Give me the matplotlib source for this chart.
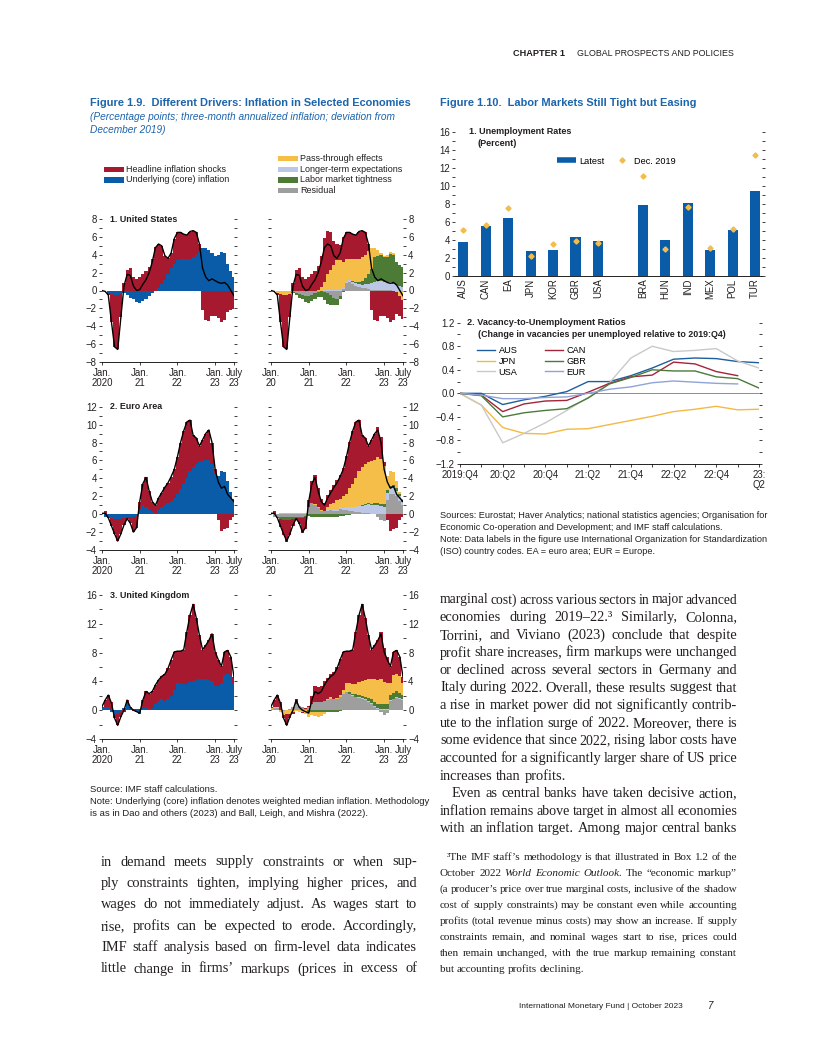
import numpy as np
import matplotlib
matplotlib.use('Agg')
import matplotlib.pyplot as plt
from matplotlib.patches import Rectangle
from matplotlib.lines import Line2D
from matplotlib.ticker import FuncFormatter

W, H = 816, 1056
SANS = ['Liberation Sans', 'DejaVu Sans']
SERIF = ['Liberation Serif', 'DejaVu Serif']
plt.rcParams['font.family'] = SANS
plt.rcParams['axes.unicode_minus'] = True

RED = '#A6192E'
BLUE = '#0A5CA8'
YELLOW = '#F4BE48'
LBLUE = '#BCC6E6'
GREEN = '#4B7B35'
GRAY = '#9E9E9E'
TBLUE = '#1C64AC'
INK = '#231F20'

# ---- Figure 1.9: monthly, Jan 2020 .. Jul 2023 ----
us_total = [0.0, -0.1, -0.5, -3.5, -6.3, -6.6, -3.0, 0.5, 1.8, 1.7, 0.5, 0.0,
            0.1, 0.7, 1.2, 2.0, 3.2, 4.8, 5.2, 5.0, 3.9, 3.6, 4.2, 5.8,
            6.5, 6.5, 6.3, 6.2, 6.6, 6.7, 6.5, 5.2, 2.5, 1.5, 1.1, 1.3,
            1.1, 0.9, 0.8, 0.9, 0.6, 0.0, -0.6]
us_headline = [0.0, 0.0, -0.2, -3.1, -5.8, -6.1, -2.6, 0.8, 2.3, 2.5, 1.5, 1.3,
               1.5, 1.9, 2.2, 2.6, 3.5, 4.9, 4.9, 4.3, 2.7, 1.8, 1.7, 2.8,
               3.1, 3.0, 2.8, 2.7, 3.1, 3.0, 2.5, 0.8, -2.2, -3.3, -3.4, -2.9,
               -2.8, -3.1, -3.5, -3.3, -2.4, -2.2, -2.1]
us_core = [0.0, -0.1, -0.3, -0.4, -0.5, -0.5, -0.4, -0.3, -0.5, -0.8, -1.0, -1.3,
           -1.4, -1.2, -1.0, -0.6, -0.3, -0.1, 0.3, 0.7, 1.2, 1.8, 2.5, 3.0,
           3.4, 3.5, 3.5, 3.5, 3.5, 3.7, 4.0, 4.4, 4.7, 4.8, 4.5, 4.2,
           3.9, 4.0, 4.3, 4.2, 3.0, 2.2, 1.5]
us_resid = [0.0, 0.0, 0.0, -0.1, -0.1, -0.1, -0.1, -0.2, -0.3, -0.4, -0.5, -0.6,
            -0.6, -0.5, -0.3, -0.2, -0.1, -0.2, -0.3, -0.5, -0.8, -1.0, -0.6, 0.2,
            0.8, 0.9, 0.7, 0.5, 0.4, 0.3, 0.3, 0.2, 0.1, 0.1, 0.1, 0.1,
            0.1, 0.1, 0.1, 0.0, 0.0, -0.1, -0.1]
us_expect = [0, 0, 0, 0, 0, 0, 0, 0, 0, 0, 0, 0,
             0, 0, 0, 0, 0, 0.1, 0.1, 0.1, 0.1, 0.1, 0.1, 0.1,
             0.2, 0.3, 0.3, 0.3, 0.3, 0.3, 0.4, 0.5, 0.7, 0.9, 1.0, 1.0,
             0.9, 0.8, 0.8, 0.7, 0.6, 0.5, 0.4]
us_labor = [0, 0, 0, 0, 0, 0, 0, -0.1, -0.2, -0.4, -0.5, -0.7,
            -0.8, -0.7, -0.6, -0.5, -0.6, -0.9, -1.2, -1.1, -0.8, -0.6, -0.3, -0.2,
            -0.1, 0.0, 0.1, 0.2, 0.3, 0.5, 0.7, 1.1, 1.6, 2.7, 2.8, 2.9,
            2.8, 2.9, 3.2, 3.3, 2.6, 2.3, 2.2]
us_pass = [0.0, -0.1, -0.3, -0.3, -0.4, -0.4, -0.3, 0.0, 0.0, 0.0, 0.0, 0.0,
           0.0, 0.0, -0.1, 0.1, 0.4, 0.9, 1.7, 2.2, 2.7, 3.3, 3.3, 2.9,
           2.5, 2.3, 2.4, 2.5, 2.5, 2.6, 2.6, 2.6, 2.3, 1.1, 0.6, 0.2,
           0.1, 0.2, 0.2, 0.2, -0.2, -0.5, -1.0]

ea_total = [0.1, 0.1, -0.4, -1.3, -2.2, -3.0, -2.2, -1.2, -0.5, -1.0, -2.0, -1.5,
            1.4, 3.4, 4.1, 2.6, 1.4, 1.0, 1.8, 2.4, 3.0, 3.5, 4.2, 5.0,
            6.4, 8.0, 9.3, 10.3, 10.5, 8.8, 8.5, 7.6, 8.3, 9.0, 9.4, 8.0,
            5.0, 3.6, 2.9, 3.1, 2.2, 1.8, 1.4]
ea_headline = [0.1, 0.4, 0.0, -0.9, -1.7, -2.5, -1.7, -0.8, -0.2, -0.7, -1.7, -1.3,
               0.8, 2.4, 3.3, 2.1, 1.2, 0.9, 1.3, 1.6, 2.0, 2.2, 2.7, 3.2,
               4.2, 5.2, 5.9, 6.3, 5.7, 3.5, 2.9, 1.8, 2.4, 3.0, 3.3, 2.4,
               0.4, -0.7, -1.9, -1.6, -1.5, -0.7, -0.3]
ea_core = [0.0, -0.3, -0.4, -0.4, -0.5, -0.5, -0.5, -0.4, -0.3, -0.3, -0.3, -0.2,
           0.6, 1.0, 0.8, 0.5, 0.2, 0.1, 0.5, 0.8, 1.0, 1.3, 1.5, 1.8,
           2.2, 2.8, 3.4, 4.0, 4.8, 5.3, 5.6, 5.8, 5.9, 6.0, 6.1, 5.6,
           4.6, 4.3, 4.8, 4.7, 3.7, 2.5, 1.7]
ea_resid = [0.0, -0.3, -0.3, -0.3, -0.3, -0.3, -0.3, -0.3, -0.3, -0.3, -0.3, -0.2,
            0.8, 1.2, 1.0, 0.7, 0.4, 0.3, 0.4, 0.5, 0.4, 0.4, 0.6, 0.5,
            0.5, 0.4, 0.3, 0.2, 0.2, 0.1, 0.1, 0.1, 0.0, 0.0, -0.3, -0.6,
            -0.8, 1.6, 2.2, 2.3, 2.0, 1.5, 1.0]
ea_expect = [0, 0, 0, 0, 0, 0, 0, 0, 0, 0, 0, 0,
             0, 0, 0, 0, 0, 0, 0.1, 0.1, 0.1, 0.1, 0.2, 0.2,
             0.3, 0.4, 0.5, 0.6, 0.7, 0.8, 0.9, 1.0, 1.0, 1.0, 1.0, 0.9,
             0.8, 0.8, 0.7, 0.7, 0.6, 0.5, 0.4]
ea_labor = [0, 0, -0.1, -0.2, -0.3, -0.3, -0.3, -0.2, -0.1, -0.1, -0.1, -0.1,
            -0.2, -0.3, -0.3, -0.3, -0.3, -0.3, -0.3, -0.3, -0.3, -0.3, -0.2, -0.2,
            -0.1, -0.1, 0.0, 0.0, 0.0, 0.1, 0.1, 0.1, 0.1, 0.2, 0.2, 0.2,
            0.3, 0.3, 0.3, 0.3, 0.3, 0.2, 0.2]
ea_pass = [0.0, 0.0, 0.0, 0.1, 0.1, 0.1, 0.1, 0.1, 0.1, 0.1, 0.1, 0.1,
           0.0, 0.1, 0.1, 0.1, 0.1, 0.1, 0.3, 0.5, 0.8, 1.1, 0.9, 1.3,
           1.5, 2.1, 2.6, 3.2, 3.9, 4.3, 4.5, 4.6, 4.8, 4.8, 5.2, 5.1,
           4.3, 1.6, 1.6, 1.4, 0.8, 0.3, 0.1]

uk_total = [0.5, 1.4, 2.1, 1.0, -1.1, -2.1, -0.9, 0.0, 1.4, 0.4, 0.0, -0.2,
            -0.4, 1.4, 2.6, 2.3, 2.6, 3.5, 4.2, 4.7, 5.0, 5.8, 7.0, 8.1,
            8.2, 8.2, 8.4, 10.9, 13.2, 14.7, 12.8, 10.4, 8.4, 9.0, 9.7, 10.6,
            8.1, 7.0, 6.1, 8.1, 8.3, 7.4, 4.6]
uk_headline = [0.2, 0.9, 1.7, 1.2, -0.4, -1.6, -0.6, -0.3, 0.6, 0.0, -0.1, 0.1,
               0.1, 1.1, 2.3, 2.1, 2.3, 2.7, 2.9, 3.2, 3.7, 4.3, 5.0, 5.3,
               4.4, 4.4, 4.8, 7.3, 9.3, 10.6, 8.6, 6.1, 4.1, 4.7, 5.5, 6.6,
               4.8, 3.6, 2.3, 3.2, 3.3, 2.6, 0.8]
uk_core = [0.3, 0.5, 0.4, -0.2, -0.7, -0.5, -0.3, 0.3, 0.8, 0.4, 0.1, -0.3,
           -0.5, 0.3, 0.3, 0.2, 0.3, 0.8, 1.3, 1.5, 1.3, 1.5, 2.0, 2.8,
           3.8, 3.8, 3.6, 3.6, 3.9, 4.1, 4.2, 4.3, 4.3, 4.3, 4.2, 4.0,
           3.3, 3.4, 3.8, 4.9, 5.0, 4.8, 3.8]
uk_resid = [0.2, 0.3, 0.3, 0.0, -0.1, 0.0, 0.2, 0.5, 0.9, 0.6, 0.4, 0.2,
            0.5, 0.9, 1.1, 1.1, 1.1, 1.3, 1.4, 1.5, 1.5, 1.6, 1.8, 2.2,
            2.5, 2.2, 2.0, 1.8, 1.7, 1.6, 1.4, 1.2, 0.9, 0.5, 0.2, -0.3,
            -0.6, -0.4, 1.3, 1.5, 1.7, 1.6, 1.4]
uk_expect = [0, 0, 0, 0, 0, 0, 0, 0, 0, 0, 0, 0,
             0, 0, 0, 0, 0, 0, 0, 0, 0, 0, 0, 0,
             0.1, 0.1, 0.1, 0.1, 0.1, 0.1, 0.1, 0.1, 0.1, 0.1, 0.1, 0.1,
             0.1, 0.1, 0.1, 0.1, 0.1, 0.1, 0.1]
uk_labor = [0, 0, 0, 0, 0, 0, 0, 0, 0, 0, 0, 0,
            -0.2, -0.2, -0.3, -0.3, -0.3, -0.3, -0.3, -0.3, -0.3, -0.2, -0.1, 0.0,
            0.1, 0.2, 0.2, 0.3, 0.3, 0.3, 0.4, 0.4, 0.5, 0.5, 0.6, 0.7,
            0.8, 0.8, 0.7, 0.8, 0.8, 0.7, 0.6]
uk_pass = [0.1, 0.2, 0.1, -0.2, -0.6, -0.5, -0.5, -0.2, -0.1, -0.2, -0.3, -0.5,
           -0.8, -0.4, -0.5, -0.6, -0.5, -0.2, 0.2, 0.3, 0.1, 0.1, 0.3, 0.6,
           1.1, 1.3, 1.3, 1.4, 1.8, 2.1, 2.3, 2.6, 2.8, 3.2, 3.3, 3.5,
           3.0, 2.9, 1.7, 2.5, 2.4, 2.4, 1.7]

# ---- Figure 1.10 ----
countries = ['AUS', 'CAN', 'EA', 'JPN', 'KOR', 'GBR', 'USA',
             'BRA', 'HUN', 'IND', 'MEX', 'POL', 'TUR']
unemp_latest = [3.7, 5.5, 6.4, 2.7, 2.8, 4.3, 3.8, 7.9, 4.0, 8.1, 2.9, 5.1, 9.4]
unemp_dec2019 = [5.1, 5.6, 7.5, 2.2, 3.5, 3.8, 3.6, 11.1, 3.0, 7.6, 3.1, 5.2, 13.4]

quarter_labels = ['2019:Q4', '20:Q2', '20:Q4', '21:Q2', '21:Q4', '22:Q2', '22:Q4', '23:\nQ2']
vu_aus = [0, 0, -0.19, -0.11, -0.05, 0.03, 0.2, 0.2, 0.3, 0.43, 0.58, 0.6, 0.59, 0.54, 0.52]
vu_jpn = [0, -0.2, -0.58, -0.68, -0.69, -0.61, -0.6, -0.53, -0.46, -0.39, -0.31, -0.27, -0.22, -0.28, -0.27]
vu_usa = [0, -0.2, -0.84, -0.68, -0.5, -0.29, -0.07, 0.18, 0.6, 0.8, 0.71, 0.73, 0.76, 0.55, 0.43]
vu_can = [0, -0.03, -0.31, -0.18, -0.13, -0.12, 0.02, 0.17, 0.28, 0.31, 0.53, 0.5, 0.37, 0.3]
vu_gbr = [0, -0.04, -0.4, -0.33, -0.29, -0.26, -0.08, 0.16, 0.27, 0.4, 0.38, 0.38, 0.28, 0.25, 0.09]
vu_eur = [0, -0.03, -0.09, -0.09, -0.07, -0.06, 0.0, 0.07, 0.11, 0.18, 0.21, 0.19, 0.17, 0.16]

fig = plt.figure(figsize=(W / 100, H / 100), dpi=100)
fig.patch.set_facecolor('white')
renderer = fig.canvas.get_renderer()

TICK = 6.9


def box(x0, y0, x1, y1):
    return [x0 / W, 1 - y1 / H, (x1 - x0) / W, (y1 - y0) / H]


def ftext(x, y, s, **kw):
    kw.setdefault('va', 'center')
    kw.setdefault('color', INK)
    return fig.text(x / W, 1 - y / H, s, **kw)


def minus_fmt(v, _):
    return f'{v:g}'.replace('-', '\u2212')


def dec_fmt(v, _):
    return f'{v:.1f}'.replace('-', '\u2212')


def stacked(ax, parts, colors):
    x = np.arange(len(parts[0]))
    pos = np.zeros(len(x))
    neg = np.zeros(len(x))
    for vals, c in zip(parts, colors):
        v = np.asarray(vals, dtype=float)
        up = np.clip(v, 0, None)
        dn = np.clip(v, None, 0)
        ax.bar(x, up, bottom=pos, width=1.04, color=c, linewidth=0)
        ax.bar(x, dn, bottom=neg, width=1.04, color=c, linewidth=0)
        pos += up
        neg += dn


def infl_axes(rect, ylim, major, minor, side, xlabels):
    ax = fig.add_axes(box(*rect))
    ax.set_xlim(0, 42)
    ax.set_ylim(ylim)
    for s in ('top', 'left', 'right'):
        ax.spines[s].set_visible(False)
    ax.spines['bottom'].set_linewidth(0.6)
    ax.set_yticks(np.arange(ylim[0], ylim[1] + 0.01, major))
    ax.set_yticks(np.arange(ylim[0], ylim[1] + 0.01, minor), minor=True)
    ax.yaxis.set_major_formatter(FuncFormatter(minus_fmt))
    ax.tick_params(axis='y', which='both', left=True, right=True,
                   labelleft=(side == 'left'), labelright=(side == 'right'),
                   length=2.5, width=0.6, pad=1.2, labelsize=TICK, colors=INK)
    ax.set_xticks([0, 12, 24, 36, 42])
    ax.set_xticklabels(xlabels, linespacing=1.0)
    ax.tick_params(axis='x', length=2.5, width=0.6, pad=1.5, labelsize=TICK, colors=INK)
    return ax


lab_left = ['Jan.\n2020', 'Jan.\n21', 'Jan.\n22', 'Jan.\n23', 'July\n23']
lab_right = ['Jan.\n20', 'Jan.\n21', 'Jan.\n22', 'Jan.\n23', 'July\n23']

panels = [
    ('1. United States', (219, 362), (-8, 8), 2, 1,
     us_total, us_headline, us_core, us_pass, us_expect, us_labor, us_resid),
    ('2. Euro Area', (406.7, 550), (-4, 12), 2, 1,
     ea_total, ea_headline, ea_core, ea_pass, ea_expect, ea_labor, ea_resid),
    ('3. United Kingdom', (595, 739), (-4, 16), 4, 2,
     uk_total, uk_headline, uk_core, uk_pass, uk_expect, uk_labor, uk_resid),
]

for (title, (ytop, ybot), ylim, major, minor,
     total, head, core, pas, expe, lab, res) in panels:
    axl = infl_axes((102, ytop, 234, ybot), ylim, major, minor, 'left', lab_left)
    stacked(axl, [core, head], [BLUE, RED])
    axl.plot(np.arange(len(total)), total, color='black', lw=1.0)
    axr = infl_axes((271, ytop, 403, ybot), ylim, major, minor, 'right', lab_right)
    stacked(axr, [res, expe, lab, pas, head], [GRAY, LBLUE, GREEN, YELLOW, RED])
    axr.plot(np.arange(len(total)), total, color='black', lw=1.0)
    ftext(110, ytop, title, fontsize=6.4, fontweight='bold')

# Figure 1.9 title, legend, notes
ftext(90, 103, 'Figure 1.9.  Different Drivers: Inflation in Selected Economies',
      fontsize=7.9, fontweight='bold', color=TBLUE)
ftext(90, 117, '(Percentage points; three-month annualized inflation; deviation from',
      fontsize=7.3, style='italic', color=TBLUE)
ftext(90, 130, 'December 2019)', fontsize=7.3, style='italic', color=TBLUE)

leg_items = [
    (104, 169.3, RED, 'Headline inflation shocks'),
    (104, 180.0, BLUE, 'Underlying (core) inflation'),
    (278, 158.3, YELLOW, 'Pass-through effects'),
    (278, 169.3, LBLUE, 'Longer-term expectations'),
    (278, 180.0, GREEN, 'Labor market tightness'),
    (278, 190.7, GRAY, 'Residual'),
]
for x, y, c, s in leg_items:
    fig.add_artist(Rectangle((x / W, 1 - (y + 2.5) / H), 20 / W, 5 / H,
                             transform=fig.transFigure, color=c, lw=0))
    ftext(x + 22, y, s, fontsize=6.5)

ftext(90, 789, 'Source: IMF staff calculations.', fontsize=6.8)
ftext(90, 801, 'Note: Underlying (core) inflation denotes weighted median inflation. Methodology',
      fontsize=6.8)
ftext(90, 813, 'is as in Dao and others (2023) and Ball, Leigh, and Mishra (2022).', fontsize=6.8)

# ---- Figure 1.10 ----
ftext(440, 103, 'Figure 1.10.  Labor Markets Still Tight but Easing',
      fontsize=7.9, fontweight='bold', color=TBLUE)

# panel 1: unemployment bars (advanced group, gap, emerging group)
slots = list(range(7)) + list(range(8, 14))
ax1 = fig.add_axes(box(455, 131.7, 762, 275.7))
ax1.bar(slots, unemp_latest, width=0.45, color=BLUE, linewidth=0)
ax1.plot(slots, unemp_dec2019, 'D', ms=2.6, color='#F2BD4B', lw=0)
ax1.set_xlim(-0.37, 13.31)
ax1.set_ylim(0, 16)
for s in ('top', 'left', 'right'):
    ax1.spines[s].set_visible(False)
ax1.spines['bottom'].set_linewidth(0.6)
ax1.set_xticks(slots)
ax1.set_xticklabels(countries, rotation=90, fontsize=TICK)
ax1.tick_params(axis='x', length=0, pad=2, colors=INK)
ax1.set_yticks(np.arange(0, 17, 2))
ax1.set_yticks(np.arange(0, 17, 1), minor=True)
ax1.yaxis.set_major_formatter(FuncFormatter(minus_fmt))
ax1.tick_params(axis='y', which='both', left=True, right=True, length=2.5, width=0.6,
                pad=1.2, labelsize=TICK, colors=INK)
ax1.legend([Line2D([], [], color=BLUE, lw=4, solid_capstyle='butt'),
            Line2D([], [], marker='D', ms=2.6, color='#F2BD4B', lw=0)],
           ['Latest', 'Dec. 2019'], loc='center left',
           bbox_to_anchor=((557 - 455) / 307, 1 - (161 - 131.7) / 144),
           frameon=False, ncol=2, fontsize=6.6, handlelength=2.1, handletextpad=0.3,
           columnspacing=0.9, borderaxespad=0, borderpad=0)
ftext(469, 131.7, '1. Unemployment Rates', fontsize=6.5, fontweight='bold')
ftext(478, 143.3, '(Percent)', fontsize=6.5, fontweight='bold')

# panel 2: vacancy-to-unemployment ratios
ax2 = fig.add_axes(box(460, 322.7, 759, 464))
ax2.axhline(0, color='#8C8C8C', lw=0.7, zorder=0)
series = [('AUS', vu_aus, '#1F5E9E'), ('JPN', vu_jpn, '#F4B942'), ('USA', vu_usa, '#C9C9C9'),
          ('CAN', vu_can, '#A4243B'), ('GBR', vu_gbr, '#4A7A3A'), ('EUR', vu_eur, '#8FA3D8')]
handles = []
for name, vals, c in series:
    ln, = ax2.plot(np.arange(len(vals)), vals, color=c, lw=1.0, label=name)
    handles.append(ln)
ax2.set_xlim(0, 14)
ax2.set_ylim(-1.2, 1.2)
for s in ('top', 'left', 'right'):
    ax2.spines[s].set_visible(False)
ax2.spines['bottom'].set_linewidth(0.6)
ax2.set_xticks(np.arange(0, 15, 2))
ax2.set_xticks(np.arange(0, 15, 1), minor=True)
ax2.set_xticklabels(quarter_labels, fontsize=TICK, linespacing=1.0)
ax2.tick_params(axis='x', which='both', length=2.5, width=0.6, pad=1.5, colors=INK)
ax2.set_yticks(np.arange(-1.2, 1.21, 0.4))
ax2.set_yticks(np.arange(-1.2, 1.21, 0.2), minor=True)
ax2.yaxis.set_major_formatter(FuncFormatter(dec_fmt))
ax2.tick_params(axis='y', which='both', left=True, right=True, length=2.5, width=0.6,
                pad=1.2, labelsize=TICK, colors=INK)
ax2.legend(handles=handles, loc='upper left',
           bbox_to_anchor=((477 - 460) / 299, 1 - (346 - 322.7) / 141.3),
           frameon=False, ncol=2, fontsize=6.6, handlelength=2.0, handletextpad=0.35,
           columnspacing=3.0, labelspacing=0.2, borderaxespad=0, borderpad=0)
ftext(467, 322.7, '2. Vacancy-to-Unemployment Ratios', fontsize=6.6, fontweight='bold')
ftext(478, 334.3, '(Change in vacancies per unemployed relative to 2019:Q4)',
      fontsize=6.4, fontweight='bold')

src10 = ['Sources: Eurostat; Haver Analytics; national statistics agencies; Organisation for',
         'Economic Co-operation and Development; and IMF staff calculations.',
         'Note: Data labels in the figure use International Organization for Standardization',
         '(ISO) country codes. EA = euro area; EUR = Europe.']
for i, s in enumerate(src10):
    ftext(440, 516 + 11.7 * i, s, fontsize=6.6)


# ---- running text ----
def words_line(line, x0, x1, y, size, justify=True):
    words = line.split(' ')

    def build(sz):
        arts, widths = [], []
        for w in words:
            italic = w.startswith('*')
            t = fig.text(0, 0, w.lstrip('*'), fontsize=sz, family=SERIF, color=INK,
                         style='italic' if italic else 'normal', va='center', ha='left')
            arts.append(t)
            widths.append(t.get_window_extent(renderer).width)
        return arts, widths

    arts, widths = build(size)
    min_gap = size * 100 / 72 * 0.2
    if justify and len(arts) > 1 and (x1 - x0 - sum(widths)) / (len(arts) - 1) < min_gap:
        # line too long for the column at this size: shrink it a little
        for t in arts:
            t.remove()
        need = sum(widths) + min_gap * (len(arts) - 1)
        arts, widths = build(size * (x1 - x0) / need)
    if justify and len(arts) > 1:
        gap = (x1 - x0 - sum(widths)) / (len(arts) - 1)
    else:
        gap = size * 100 / 72 * 0.25
    x = x0
    for t, w in zip(arts, widths):
        t.set_position((x / W, 1 - y / H))
        x += w + gap


BODY = 10.4
body_right = [
    ('marginal cost) across various sectors in major advanced', 440, True),
    ('economies during 2019\u201322.\u00b3 Similarly, Colonna,', 440, True),
    ('Torrini, and Viviano (2023) conclude that despite', 440, True),
    ('profit share increases, firm markups were unchanged', 440, True),
    ('or declined across several sectors in Germany and', 440, True),
    ('Italy during 2022. Overall, these results suggest that', 440, True),
    ('a rise in market power did not significantly contrib-', 440, True),
    ('ute to the inflation surge of 2022. Moreover, there is', 440, True),
    ('some evidence that since 2022, rising labor costs have', 440, True),
    ('accounted for a significantly larger share of US price', 440, True),
    ('increases than profits.', 440, False),
    ('Even as central banks have taken decisive action,', 452, True),
    ('inflation remains above target in almost all economies', 440, True),
    ('with an inflation target. Among major central banks', 440, True),
]
for i, (s, x0, j) in enumerate(body_right):
    words_line(s, x0, 737, 600 + 17.6 * i, BODY, j)

body_left = [
    'in demand meets supply constraints or when sup-',
    'ply constraints tighten, implying higher prices, and',
    'wages do not immediately adjust. As wages start to',
    'rise, profits can be expected to erode. Accordingly,',
    'IMF staff analysis based on firm-level data indicates',
    'little change in firms\u2019 markups (prices in excess of',
]
for i, s in enumerate(body_left):
    words_line(s, 101, 417, 862 + 21.4 * i, BODY, True)

foot = [
    ('\u00b3The IMF staff\u2019s methodology is that illustrated in Box 1.2 of the', 447, True),
    ('October 2022 *World *Economic *Outlook. The \u201ceconomic markup\u201d', 440, True),
    ('(a producer\u2019s price over true marginal costs, inclusive of the shadow', 440, True),
    ('cost of supply constraints) may be constant even while accounting', 440, True),
    ('profits (total revenue minus costs) may show an increase. If supply', 440, True),
    ('constraints remain, and nominal wages start to rise, prices could', 440, True),
    ('then remain unchanged, with the true markup remaining constant', 440, True),
    ('but accounting profits declining.', 440, False),
]
for i, (s, x0, j) in enumerate(foot):
    words_line(s, x0, 737, 857 + 16 * i, 8.0, j)

# header and footer
ftext(513, 54, 'CHAPTER 1', fontsize=6.6, fontweight='bold')
ftext(577, 54, 'GLOBAL PROSPECTS AND POLICIES', fontsize=6.4)
ftext(683, 1006, 'International Monetary Fund | October 2023', fontsize=6.0, ha='right')
ftext(708, 1006, '7', fontsize=7.0, style='italic')

fig.savefig('out.png', dpi=100, facecolor='white')
